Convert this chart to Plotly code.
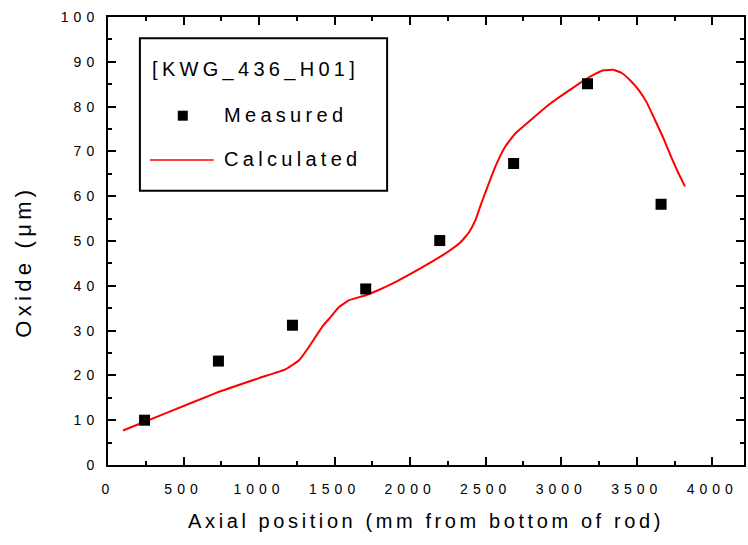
import plotly.graph_objects as go

# ---- data ----
meas_x = [242, 731, 1221, 1706, 2196, 2685, 3174, 3661]
meas_y = [10.0, 23.2, 31.2, 39.3, 50.1, 67.3, 85.1, 58.2]

calc_x = [99, 400, 716, 1000, 1178, 1265, 1331, 1419, 1465, 1531, 1597, 1707,
          1780, 1905, 2125, 2250, 2330, 2389, 2433, 2470, 2500, 2564, 2630,
          2696, 2805, 2937, 3070, 3159, 3225, 3280, 3346, 3400, 3456, 3511,
          3565, 3621, 3676, 3730, 3774, 3819]
calc_y = [7.7, 11.8, 16.1, 19.4, 21.4, 23.4, 26.4, 30.9, 32.7, 35.3, 36.8, 37.9,
          38.9, 40.9, 45.0, 47.6, 49.6, 51.9, 54.7, 58.3, 61.0, 66.6, 71.1,
          74.0, 77.2, 80.9, 84.0, 86.0, 87.3, 88.1, 88.2, 87.5, 85.9, 83.8,
          81.0, 77.0, 73.0, 68.6, 65.3, 62.2]

x_ticks = [0, 500, 1000, 1500, 2000, 2500, 3000, 3500, 4000]
y_ticks = [0, 10, 20, 30, 40, 50, 60, 70, 80, 90, 100]

legend_title = "[KWG_436_H01]"
name_meas = "Measured"
name_calc = "Calculated"
x_title = "Axial position (mm from bottom of rod)"
y_title = "Oxide (μm)"

W, H = 748, 545
ML, MR, MT, MB = 108, 2, 17, 80
PW, PH = W - ML - MR, H - MT - MB


def px(x):
    return (x - ML) / PW


def py(y):
    return (H - MB - y) / PH


FONT = "Liberation Sans, Arial, sans-serif"

fig = go.Figure()
fig.add_trace(go.Scatter(
    x=calc_x, y=calc_y, mode="lines", name=name_calc,
    line=dict(color="#ff0000", width=2, shape="spline", smoothing=0.35),
    showlegend=False))
fig.add_trace(go.Scatter(
    x=meas_x, y=meas_y, mode="markers", name=name_meas,
    marker=dict(symbol="square", size=11, color="black"),
    showlegend=False))

axis_common = dict(
    showgrid=False, zeroline=False, showline=True, linecolor="black",
    linewidth=2, mirror="ticks", ticks="inside", ticklen=8, tickwidth=2,
    tickcolor="black", tickfont=dict(family=FONT, size=14, color="black"),
)

fig.update_xaxes(
    **axis_common, range=[0, 4210], tickvals=x_ticks,
    ticktext=[str(v) for v in x_ticks], ticklabelstandoff=10,
    minor=dict(ticks="inside", ticklen=4, tickwidth=1.5, tickcolor="black",
               dtick=250, tick0=0, showgrid=False),
    title=dict(text=x_title, font=dict(family=FONT, size=20, color="black"),
               standoff=18),
)
fig.update_yaxes(
    **axis_common, range=[0, 100], tickvals=y_ticks,
    ticktext=[str(v) for v in y_ticks], ticklabelstandoff=4,
    minor=dict(ticks="inside", ticklen=4, tickwidth=1.5, tickcolor="black",
               dtick=5, tick0=0, showgrid=False),
)

shapes = [
    dict(type="rect", xref="paper", yref="paper",
         x0=px(140), x1=px(388), y0=py(190.7), y1=py(38.3),
         line=dict(color="black", width=2), fillcolor="rgba(0,0,0,0)"),
    dict(type="rect", xref="paper", yref="paper", xsizemode="pixel",
         ysizemode="pixel", xanchor=px(183), yanchor=py(115.7),
         x0=-5, x1=5, y0=-5, y1=5, fillcolor="black", line=dict(width=0)),
    dict(type="line", xref="paper", yref="paper",
         x0=px(150), x1=px(214), y0=py(160), y1=py(160),
         line=dict(color="#ff0000", width=1.5)),
]

lf = dict(family=FONT, size=20, color="black")
annotations = [
    dict(text=legend_title, xref="paper", yref="paper", x=px(256), y=py(70),
         showarrow=False, xanchor="center", yanchor="middle", font=lf),
    dict(text=name_meas, xref="paper", yref="paper", x=px(222), y=py(115.5),
         showarrow=False, xanchor="left", yanchor="middle", align="left",
         font=lf),
    dict(text=name_calc, xref="paper", yref="paper", x=px(222), y=py(159.5),
         showarrow=False, xanchor="left", yanchor="middle", align="left",
         font=lf),
    dict(text=y_title, xref="paper", yref="paper", x=px(23), y=py(262),
         showarrow=False, xanchor="center", yanchor="middle", textangle=-90,
         font=dict(family=FONT, size=22, color="black")),
]

fig.update_layout(
    width=W, height=H, margin=dict(l=ML, r=MR, t=MT, b=MB),
    paper_bgcolor="white", plot_bgcolor="white",
    shapes=shapes, annotations=annotations, showlegend=False,
    font=dict(family=FONT, color="black"),
)

post = """
var gd = document.getElementById('{plot_id}');
function sp(sel, ls){ gd.querySelectorAll(sel).forEach(function(t){ t.style.letterSpacing = ls; }); }
function apply(){
  sp('.xtick text', '5px');
  sp('.ytick text', '5px');
  sp('text.xtitle', '3.6px');
  sp('text.annotation-text', '4.3px');
}
apply();
setTimeout(apply, 0); setTimeout(apply, 100); setTimeout(apply, 500);
if (gd.on) { gd.on('plotly_afterplot', apply); }
"""

fig.write_html("out.html", post_script=post,
               config=dict(responsive=False, displayModeBar=False))
